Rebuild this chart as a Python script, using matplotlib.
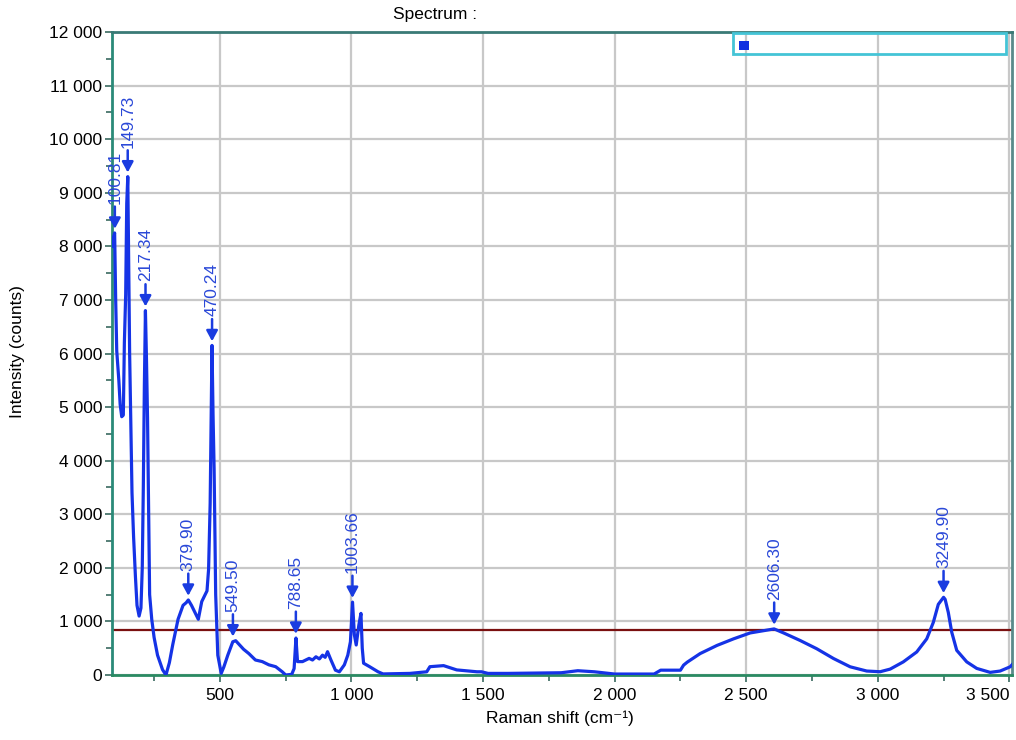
import matplotlib
matplotlib.use("Agg")
import matplotlib.pyplot as plt
from matplotlib.ticker import MultipleLocator, FuncFormatter
from matplotlib.patches import Rectangle

plt.rcParams['font.family'] = ['Liberation Sans', 'DejaVu Sans']

# ---- data ----
raman_shift = [90, 92, 100, 104, 108, 116, 121, 127, 133, 137, 142, 146, 150, 154, 157, 162, 166, 172,
               179, 185, 193, 200, 205, 209, 213, 217, 221, 225, 228, 233, 241, 250, 263, 282, 295, 308,
               321, 341, 360, 372, 380, 392, 405, 418, 431, 444, 451, 457, 463, 467, 470, 474, 478, 484,
               492, 505, 515, 530, 549, 560, 575, 590, 610, 635, 661, 686, 712, 737, 750, 773, 782, 789,
               795, 814, 839, 852, 865, 878, 890, 900, 909, 922, 939, 954, 973, 986, 996, 1004, 1011, 1018,
               1028, 1036, 1041, 1046, 1069, 1101, 1120, 1222, 1286, 1298, 1350, 1400, 1477, 1494, 1519,
               1595, 1797, 1860, 1923, 2000, 2150, 2175, 2250, 2262, 2276, 2325, 2389, 2452, 2515, 2566,
               2606, 2642, 2705, 2768, 2832, 2895, 2958, 3009, 3047, 3097, 3148, 3186, 3211, 3230, 3250,
               3256, 3268, 3281, 3300, 3338, 3376, 3427, 3465, 3503, 3510]
intensity = [8000, 8100, 8250, 7000, 6050, 5500, 5050, 4820, 4850, 6200, 7100, 8800, 9300, 7500, 6000,
             4600, 3400, 2580, 1840, 1300, 1100, 1250, 2000, 3500, 5400, 6800, 5900, 4800, 3500, 1500,
             1040, 700, 370, 100, 0, 230, 570, 1040, 1300, 1350, 1400, 1300, 1170, 1040, 1370, 1500, 1570,
             1970, 3200, 4850, 6150, 4850, 3850, 1500, 370, 30, 150, 370, 620, 640, 560, 480, 400, 280,
             250, 190, 155, 60, 0, 12, 120, 690, 250, 250, 310, 280, 340, 300, 370, 330, 435, 280, 90, 60,
             190, 370, 620, 1360, 750, 560, 930, 1150, 500, 220, 155, 60, 20, 30, 60, 155, 175, 95, 60,
             60, 30, 30, 42, 80, 60, 18, 18, 90, 90, 184, 240, 400, 552, 675, 785, 828, 860, 785, 644,
             490, 307, 153, 74, 61, 110, 245, 430, 675, 982, 1319, 1450, 1411, 1166, 798, 460, 245, 123,
             49, 74, 153, 190]

peak_labels = ['100.81', '149.73', '217.34', '379.90', '470.24', '549.50', '788.65', '1003.66',
               '2606.30', '3249.90']
peak_positions = [100.81, 149.73, 217.34, 379.90, 470.24, 549.50, 788.65, 1003.66, 2606.30, 3249.90]
peak_heights = [8250, 9300, 6800, 1400, 6150, 640, 690, 1360, 860, 1450]

threshold = 840

x_ticks = [500, 1000, 1500, 2000, 2500, 3000, 3500]
y_ticks = [0, 1000, 2000, 3000, 4000, 5000, 6000, 7000, 8000, 9000, 10000, 11000, 12000]

FS = 12.5

# ---- figure ----
fig = plt.figure(figsize=(10.16, 7.40), dpi=100)
ax = fig.add_axes([112 / 1016, 1 - 675 / 740, 900 / 1016, 643 / 740])

ax.set_xlim(90, 3510)
ax.set_ylim(0, 12000)

ax.grid(True, which='major', color='#c8c8c8', lw=1.6, zorder=0)
ax.set_axisbelow(True)

ax.axhline(threshold, color='#7a1010', lw=1.6, zorder=2)
ax.plot(raman_shift, intensity, color='#1533e6', lw=2.3, zorder=3)

label_color = '#2a48d8'
for lab, px, py in zip(peak_labels, peak_positions, peak_heights):
    ax.annotate(lab, xy=(px, py), xytext=(0, 21), textcoords='offset points',
                rotation=90, ha='center', va='bottom', fontsize=FS, color=label_color,
                arrowprops=dict(arrowstyle='-|>,head_length=0.5,head_width=0.27',
                                color='#1a3ce0', lw=1.8, shrinkA=0, shrinkB=3),
                zorder=4)

ax.set_xticks(x_ticks)
ax.set_yticks(y_ticks)
ax.xaxis.set_minor_locator(MultipleLocator(250))
ax.yaxis.set_minor_locator(MultipleLocator(500))
fmt = FuncFormatter(lambda v, p: f"{int(round(v)):,}".replace(',', ' '))
ax.xaxis.set_major_formatter(fmt)
ax.yaxis.set_major_formatter(fmt)
ax.tick_params(axis='both', which='major', labelsize=FS, length=5, width=1.2,
               direction='out', color='#3a6a60')
ax.tick_params(axis='both', which='minor', length=4, width=1.2, direction='out', color='#3a6a60')
ax.tick_params(axis='x', pad=4)
ax.tick_params(axis='y', pad=2)
for lbl in ax.get_xticklabels():
    if lbl.get_text() == '3 500':
        lbl.set_ha('right')

ax.spines['left'].set_color('#2a8a78')
ax.spines['bottom'].set_color('#2a8a62')
ax.spines['top'].set_color('#3a7a76')
ax.spines['right'].set_color('#5a8a8a')
for s in ax.spines.values():
    s.set_linewidth(2)

# legend-like box
ax.add_patch(Rectangle((0.69, 0.966), 0.303, 0.032, transform=ax.transAxes,
                       facecolor='none', edgecolor='#44c4d6', lw=2, zorder=5, clip_on=False))
ax.add_patch(Rectangle((0.6967, 0.972), 0.0111, 0.014, transform=ax.transAxes,
                       facecolor='#1030e0', edgecolor='none', zorder=6, clip_on=False))

fig.text(435 / 1016, 1 - 14 / 740, 'Spectrum :', ha='center', va='center', fontsize=FS)
fig.text(18 / 1016, 1 - 352 / 740, 'Intensity (counts)', rotation=90, ha='center', va='center',
         fontsize=FS)
fig.text(560 / 1016, 1 - 718 / 740, 'Raman shift (cm⁻¹)', ha='center', va='center', fontsize=FS)

fig.savefig('out.png', dpi=100)
